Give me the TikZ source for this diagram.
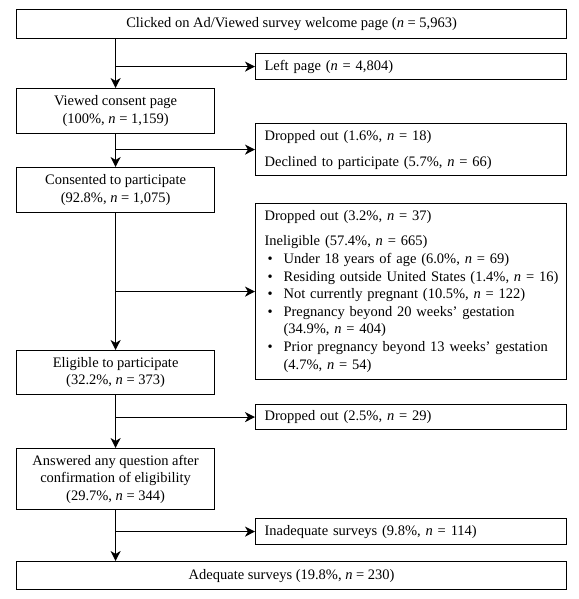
\documentclass[tikz,border=0pt]{standalone}
\usepackage{fontspec}
\setmainfont{Liberation Serif}
\usetikzlibrary{arrows.meta}
\newcommand\myblt{\makebox[21pt][l]{\hspace{5pt}\textbullet}}
\newcommand\mycont{\hspace*{21pt}}
\hfuzz=20pt
\begin{document}
\begin{tikzpicture}[x=1pt,y=-1pt,
  box/.style={draw,line width=1.2pt,inner sep=0pt,anchor=north west,
    font=\fontsize{14.5}{17.6}\selectfont,align=center},
  wbox/.style={box,minimum width=550pt},
  lbox/.style={box,minimum width=198pt},
  rbox/.style={box,minimum width=311pt,text width=297pt,align=left,inner xsep=7pt},
  conn/.style={line width=1.2pt,-{Stealth[length=10pt,width=10pt,inset=3pt]}}]
\useasboundingbox (0,0) rectangle (578,599);

\node[wbox,minimum height=29pt] (top) at (16,9) {Clicked on Ad/Viewed survey welcome page (\emph{n} = 5,963)};
\node[rbox,minimum height=26pt] (left) at (255,53) {\hspace*{2pt}Left page (\emph{n} = 4,804)};
\node[lbox,minimum height=45pt] (viewed) at (16,88) {Viewed consent page\\(100\%, \emph{n} = 1,159)};
\node[rbox,minimum height=52pt] (drop1) at (255,123) {\hspace*{2pt}Dropped out (1.6\%, \emph{n} = 18)\\[8.4pt]\hspace*{2pt}Declined to participate (5.7\%, \emph{n} = 66)};
\node[lbox,minimum height=45pt] (cons) at (16,167) {Consented to participate\\(92.8\%, \emph{n} = 1,075)};
\node[rbox,minimum height=176pt] (big) at (255,203) {\hspace*{2pt}Dropped out (3.2\%, \emph{n} = 37)\\[7.4pt]
\hspace*{2pt}Ineligible (57.4\%, \emph{n} = 665)\\
\mbox{\myblt Under 18 years of age (6.0\%, \emph{n} = 69)}\\
\mbox{\myblt Residing outside United States (1.4\%, \emph{n} = 16)}\\
\mbox{\myblt Not currently pregnant (10.5\%, \emph{n} = 122)}\\
\mbox{\myblt Pregnancy beyond 20 weeks' gestation}\\
\mycont (34.9\%, \emph{n} = 404)\\
\mbox{\myblt Prior pregnancy beyond 13 weeks' gestation}\\
\mycont (4.7\%, \emph{n} = 54)};
\node[lbox,minimum height=44pt] (elig) at (16,350) {Eligible to participate\\(32.2\%, \emph{n} = 373)};
\node[rbox,minimum height=25pt] (drop3) at (255,404) {\hspace*{2pt}Dropped out (2.5\%, \emph{n} = 29)};
\node[lbox,minimum height=61pt] (ans) at (16,448) {Answered any question after\\confirmation of eligibility\\(29.7\%, \emph{n} = 344)};
\node[rbox,minimum height=26pt] (inad) at (255,518) {\hspace*{2pt}Inadequate surveys (9.8\%, \emph{n} = 114)};
\node[wbox,minimum height=28pt] (adeq) at (16,561) {Adequate surveys (19.8\%, \emph{n} = 230)};

\coordinate (t0) at (top.south -| viewed.north);
\coordinate (j1) at (viewed.north |- left.west);
\coordinate (j2) at (viewed.north |- drop1.west);
\coordinate (j3) at (viewed.north |- big.west);
\coordinate (j4) at (viewed.north |- drop3.west);
\coordinate (j5) at (viewed.north |- inad.west);
\coordinate (a0) at (ans.south |- adeq.north);

\draw[conn] (t0) -- (viewed.north);
\draw[conn] (viewed.south) -- (cons.north);
\draw[conn] (cons.south) -- (elig.north);
\draw[conn] (elig.south) -- (ans.north);
\draw[conn] (ans.south) -- (a0);
\draw[conn] (j1) -- (left.west);
\draw[conn] (j2) -- (drop1.west);
\draw[conn] (j3) -- (big.west);
\draw[conn] (j4) -- (drop3.west);
\draw[conn] (j5) -- (inad.west);
\end{tikzpicture}
\end{document}
